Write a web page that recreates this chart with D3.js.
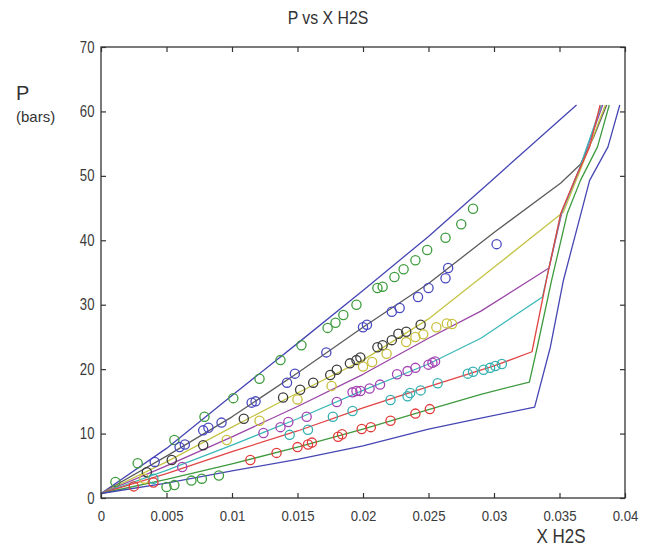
<!DOCTYPE html>
<html><head><meta charset="utf-8">
<script src="https://cdn.jsdelivr.net/npm/d3@7"></script>
<style>
body{margin:0;background:#fff;}
svg{display:block;}
text{font-family:"Liberation Sans",Arial,sans-serif;}
</style></head>
<body><svg id="c" width="655" height="548"></svg>
<script>
// ---- data ----
const xTickValues = [0,0.005,0.01,0.015,0.02,0.025,0.03,0.035,0.04];
const xTickLabels = ["0","0.005","0.01","0.015","0.02","0.025","0.03","0.035","0.04"];
const yTickValues = [0,10,20,30,40,50,60,70];
const yTickLabels = ["0","10","20","30","40","50","60","70"];

// model curves [x, P]
const curveBlueTop = [[0,0.7],[0.005,7.7],[0.01,15.9],[0.015,24.0],[0.02,32.2],[0.025,40.6],[0.03,49.6],[0.0363,61.0]];
const curveGray    = [[0,0.7],[0.005,6.5],[0.01,12.6],[0.015,19.4],[0.02,26.5],[0.025,33.3],[0.03,41.2],[0.0351,48.9],[0.0366,51.8],[0.0376,56.0],[0.0386,61.0]];
const curveYellow  = [[0,0.7],[0.005,5.6],[0.01,11.0],[0.015,16.3],[0.02,21.4],[0.025,27.8],[0.03,35.8],[0.0353,44.4],[0.0367,51.5],[0.0385,61.0]];
const curvePurple  = [[0,0.7],[0.005,5.0],[0.01,9.5],[0.015,14.2],[0.02,19.2],[0.025,24.8],[0.029,29.0],[0.0342,35.7],[0.0352,44.5],[0.0366,51.5],[0.0383,61.0]];
const curveCyan    = [[0,0.7],[0.005,4.3],[0.01,8.2],[0.015,12.3],[0.02,16.7],[0.025,20.8],[0.029,24.8],[0.0337,31.2],[0.0351,44.0],[0.0365,51.0],[0.0382,61.0]];
const curveRed     = [[0,0.7],[0.005,3.8],[0.01,7.2],[0.015,10.4],[0.02,14.0],[0.025,17.3],[0.03,20.5],[0.0329,22.7],[0.034,33.8],[0.0351,44.2],[0.0363,50.0],[0.0373,54.5],[0.0381,61.0]];
const curveGreen   = [[0,0.7],[0.005,2.9],[0.01,5.3],[0.015,7.9],[0.02,10.7],[0.025,13.7],[0.029,16.1],[0.0327,18.0],[0.0333,23.4],[0.0344,33.8],[0.0356,44.2],[0.0366,49.3],[0.0379,54.5],[0.0388,61.0]];
const curveBlueBot = [[0,0.7],[0.005,2.3],[0.01,4.2],[0.015,6.0],[0.02,8.1],[0.025,10.7],[0.029,12.4],[0.0331,14.1],[0.0343,23.4],[0.0353,33.8],[0.0365,43.1],[0.0373,49.3],[0.0387,54.5],[0.0396,61.0]];

// measured points [x, P]
const ptsGreen  = [[0.0011,2.5],[0.0028,5.4],[0.0056,9.0],[0.0079,12.6],[0.0101,15.5],[0.0121,18.5],[0.0137,21.4],[0.0153,23.7],[0.0173,26.4],[0.0179,27.2],[0.0185,28.4],[0.0195,30.0],[0.0211,32.6],[0.0215,32.8],[0.0224,34.3],[0.0231,35.5],[0.0240,36.9],[0.0249,38.5],[0.0263,40.4],[0.0275,42.5],[0.0284,44.9],
                   [0.0050,1.7],[0.0056,2.0],[0.0069,2.7],[0.0077,3.0],[0.0090,3.5]];
const ptsBlue   = [[0.0041,5.6],[0.0060,7.9],[0.0064,8.3],[0.0078,10.5],[0.0082,10.9],[0.0092,11.7],[0.0115,14.8],[0.0118,15.0],[0.0142,17.9],[0.0148,19.3],[0.0172,22.6],[0.0200,26.5],[0.0203,26.9],[0.0222,28.9],[0.0228,29.5],[0.0242,31.2],[0.0250,32.6],[0.0263,34.1],[0.0265,35.7],[0.0302,39.4]];
const ptsBlack  = [[0.0035,4.0],[0.0054,5.9],[0.0078,8.2],[0.0109,12.3],[0.0139,15.6],[0.0152,16.8],[0.0162,17.9],[0.0175,19.1],[0.0180,19.9],[0.0190,20.9],[0.0195,21.4],[0.0198,21.8],[0.0211,23.4],[0.0215,23.7],[0.0222,24.5],[0.0227,25.5],[0.0233,25.8],[0.0244,26.9]];
const ptsYellow = [[0.0033,3.0],[0.0096,9.0],[0.0121,12.0],[0.0150,15.3],[0.0176,17.4],[0.0200,20.4],[0.0207,21.1],[0.0218,22.4],[0.0233,24.2],[0.0240,25.0],[0.0246,25.4],[0.0256,26.5],[0.0264,27.1],[0.0268,27.0]];
const ptsPurple = [[0.0062,4.8],[0.0124,10.1],[0.0137,11.0],[0.0143,11.8],[0.0157,12.6],[0.0180,14.9],[0.0192,16.4],[0.0195,16.6],[0.0198,16.6],[0.0205,17.0],[0.0213,17.6],[0.0226,19.2],[0.0234,19.7],[0.0240,20.2],[0.0250,20.7],[0.0253,21.0],[0.0255,21.2]];
const ptsCyan   = [[0.0040,3.0],[0.0144,9.8],[0.0158,10.6],[0.0177,12.6],[0.0192,13.5],[0.0221,15.2],[0.0234,15.8],[0.0236,16.3],[0.0244,16.7],[0.0257,17.8],[0.0280,19.3],[0.0284,19.6],[0.0292,19.9],[0.0297,20.2],[0.0301,20.5],[0.0306,20.8]];
const ptsRed    = [[0.0025,1.8],[0.0040,2.4],[0.0114,5.9],[0.0134,7.0],[0.0150,7.9],[0.0158,8.3],[0.0161,8.6],[0.0181,9.5],[0.0184,9.9],[0.0199,10.7],[0.0206,11.0],[0.0221,12.0],[0.0240,13.1],[0.0251,13.8]];

// ---- drawing ----
const mLeft = 101, mRight = 625, mTop = 47, mBottom = 498;
const svg = d3.select("#c");
const x = d3.scaleLinear().domain([0,0.04]).range([mLeft,mRight]);
const y = d3.scaleLinear().domain([0,70]).range([mBottom,mTop]);

const lines = [
  {d:curveBlueTop, c:"#4646b4"},
  {d:curveGray,    c:"#5c5c5c"},
  {d:curveYellow,  c:"#c4c444"},
  {d:curvePurple,  c:"#9a46a6"},
  {d:curveCyan,    c:"#3cb8b8"},
  {d:curveRed,     c:"#e24444"},
  {d:curveGreen,   c:"#3e9a3e"},
  {d:curveBlueBot, c:"#4646b4"}
];
const pts = [
  {d:ptsGreen,  c:"#3e9c3e"},
  {d:ptsBlue,   c:"#4a4ac0"},
  {d:ptsBlack,  c:"#3c3c3c"},
  {d:ptsYellow, c:"#c8c03c"},
  {d:ptsPurple, c:"#a444b4"},
  {d:ptsCyan,   c:"#34b0b0"},
  {d:ptsRed,    c:"#e23a3a"}
];

const line = d3.line().x(d=>x(d[0])).y(d=>y(d[1]));
const g = svg.append("g");
lines.forEach(s=>{
  g.append("path").attr("d",line(s.d)).attr("fill","none")
   .attr("stroke",s.c).attr("stroke-width",1.3).attr("stroke-linejoin","round");
});
pts.forEach(s=>{
  g.selectAll(null).data(s.d).enter().append("circle")
   .attr("cx",d=>x(d[0])).attr("cy",d=>y(d[1])).attr("r",4.6)
   .attr("fill","none").attr("stroke",s.c).attr("stroke-width",1.3);
});

// axes
const axColor = "#333";
function styleAxis(sel){
  sel.select(".domain").remove();
  sel.selectAll("line").attr("stroke",axColor).attr("stroke-width",1.2);
}
const xb = svg.append("g").attr("transform",`translate(0,${mBottom})`)
  .call(d3.axisBottom(x).tickValues(xTickValues).tickSizeInner(-5).tickSizeOuter(0)
        .tickFormat((d,i)=>xTickLabels[i]).tickPadding(12));
styleAxis(xb);
xb.selectAll("text").attr("fill","#3a3a3a").style("font-size","15px")
  .attr("transform","scale(0.88,1)");
const xt = svg.append("g").attr("transform",`translate(0,${mTop})`)
  .call(d3.axisTop(x).tickValues(xTickValues).tickSizeInner(-5).tickSizeOuter(0).tickFormat(""));
styleAxis(xt);
const yl = svg.append("g").attr("transform",`translate(${mLeft},0)`)
  .call(d3.axisLeft(y).tickValues(yTickValues).tickSizeInner(-5).tickSizeOuter(0)
        .tickFormat((d,i)=>yTickLabels[i]).tickPadding(8));
styleAxis(yl);
yl.selectAll("text").attr("fill","#3a3a3a").style("font-size","16px")
  .attr("transform","scale(0.82,1)");
const yr = svg.append("g").attr("transform",`translate(${mRight},0)`)
  .call(d3.axisRight(y).tickValues(yTickValues).tickSizeInner(-5).tickSizeOuter(0).tickFormat(""));
styleAxis(yr);

svg.append("rect").attr("x",mLeft).attr("y",mTop).attr("width",mRight-mLeft).attr("height",mBottom-mTop)
  .attr("fill","none").attr("stroke",axColor).attr("stroke-width",1.3);

// titles
svg.append("text").attr("x",0).attr("y",0)
  .attr("transform","translate(328,24) scale(0.88,1)")
  .attr("text-anchor","middle").attr("fill","#333").style("font-size","18px").text("P vs X H2S");
svg.append("text").attr("x",16).attr("y",100).attr("fill","#333").style("font-size","20px").text("P");
svg.append("text").attr("x",16).attr("y",122).attr("fill","#333").style("font-size","15px").text("(bars)");
svg.append("text").attr("x",0).attr("y",0)
  .attr("transform","translate(561,543) scale(0.85,1)")
  .attr("text-anchor","middle").attr("fill","#333").style("font-size","20px").text("X H2S");
</script></body></html>
